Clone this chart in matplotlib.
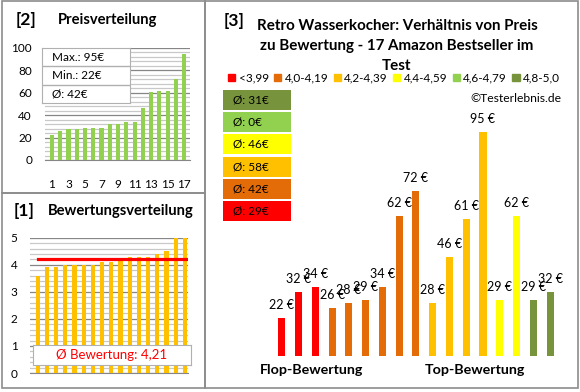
import numpy as np
import matplotlib.pyplot as plt
from matplotlib.patches import Rectangle, Patch
from matplotlib.ticker import MultipleLocator

plt.rcParams['font.family'] = ['Lato', 'DejaVu Sans']

# Daten: Reihenfolge wie im Hauptdiagramm [3]
preise = [22, 32, 34, 26, 28, 29, 34, 62, 72, 28, 46, 61, 95, 29, 62, 29, 32]
bewertungen = [3.6, 3.9, 3.9, 4.0, 4.0, 4.0, 4.0, 4.1, 4.1, 4.2, 4.3, 4.3, 4.3, 4.4, 4.5, 5.0, 5.0]
klassen = ['<3,99', '4,0-4,19', '4,2-4,39', '4,4-4,59', '4,6-4,79', '4,8-5,0']
grenzen = [0, 4.0, 4.2, 4.4, 4.6, 4.8, 5.01]
farben = ['#ff0000', '#e36c09', '#ffc000', '#ffff00', '#92d050', '#77933c']
titel = 'Retro Wasserkocher: Verhältnis von Preis\nzu Bewertung - 17 Amazon Bestseller im\nTest'

W, H = 580, 392


def px(l, t, r, b):
    # Pixelrechteck -> Figurkoordinaten
    return [l / W, 1 - b / H, (r - l) / W, (b - t) / H]


def runden(x):
    # kaufmaennisch runden (wie Excel)
    return int(np.floor(x + 0.5))


fig = plt.figure(figsize=(W / 100, H / 100), dpi=100)
grau = '#8c8c8c'

# Rahmen der drei Felder
for (l, t, r, b) in [(2, 1, 205, 193), (2, 193, 205, 388), (205, 1, 578, 388)]:
    fig.add_artist(Rectangle((l / W, 1 - b / H), (r - l) / W, (b - t) / H,
                             transform=fig.transFigure, fill=False, ec=grau, lw=1.2))

n = len(preise)
idx = np.arange(1, n + 1)

# -------------------
# [2] Preisverteilung
# -------------------
ax1 = fig.add_axes(px(44.5, 48, 190, 160))
p_sort = sorted(preise)
ax1.bar(idx, p_sort, width=0.5, color='#92d050', zorder=3)
ax1.set_xlim(0.1, 17.7)
ax1.set_ylim(0, 100)
ax1.set_xticks(idx[::2])
ax1.set_yticks(range(0, 101, 20))
ax1.yaxis.set_minor_locator(MultipleLocator(4))
ax1.grid(axis='y', which='major', color='#868686', lw=0.9)
ax1.grid(axis='y', which='minor', color='#c8c8c8', lw=0.9)
ax1.tick_params(which='both', length=0, labelsize=8.5)
ax1.tick_params(axis='x', pad=14)
ax1.tick_params(axis='y', pad=9)
for s in ['top', 'right', 'left']:
    ax1.spines[s].set_visible(False)
ax1.spines['bottom'].set_color('#868686')
fig.text(16 / W, 1 - 20 / H, '[2]', fontsize=12.5, fontweight='bold', va='center')
fig.text(58 / W, 1 - 20 / H, 'Preisverteilung', fontsize=10.6, fontweight='bold', va='center')

# Infobox Max/Min/Durchschnitt
box = fig.add_axes(px(42, 48, 130, 103), zorder=5)
box.set_xticks([])
box.set_yticks([])
box.set_xlim(0, 1)
box.set_ylim(0, 3)
for s in box.spines.values():
    s.set_color('#b0b0b0')
box.axhline(1, color='#b0b0b0', lw=1)
box.axhline(2, color='#b0b0b0', lw=1)
infos = [f'Max.: {max(preise)}€', f'Min.: {min(preise)}€', f'Ø: {runden(np.mean(preise))}€']
for i, t in enumerate(infos):
    box.text(0.11, 2.5 - i, t, fontsize=8.5, va='center')

# -------------------
# [1] Bewertungsverteilung
# -------------------
ax2 = fig.add_axes(px(30, 237.7, 188, 373))
b_sort = sorted(bewertungen)
ax2.bar(idx, b_sort, width=0.45, color='#ffc000', zorder=3)
ax2.set_xlim(0.16, 17.33)
ax2.set_ylim(0, 5)
ax2.set_xticks([])
ax2.set_yticks(range(0, 6))
ax2.yaxis.set_minor_locator(MultipleLocator(0.2))
ax2.grid(axis='y', which='major', color='#868686', lw=0.9)
ax2.grid(axis='y', which='minor', color='#c8c8c8', lw=0.9)
ax2.tick_params(which='both', length=0, labelsize=8.5, pad=9)
for s in ['top', 'right', 'left']:
    ax2.spines[s].set_visible(False)
ax2.spines['bottom'].set_color('#868686')
mittel_b = np.mean(bewertungen)
ax2.axhline(mittel_b, xmin=0.05, xmax=1, color='#ff0000', lw=2.3, zorder=4)
fig.text(14 / W, 1 - 211 / H, '[1]', fontsize=12.5, fontweight='bold', va='center')
fig.text(48 / W, 1 - 211 / H, 'Bewertungsverteilung', fontsize=10.6, fontweight='bold', va='center')

box2 = fig.add_axes(px(33, 345, 191, 365), zorder=5)
box2.set_xticks([])
box2.set_yticks([])
for s in box2.spines.values():
    s.set_color('#b0b0b0')
box2.text(0.5, 0.5, f'Ø Bewertung: {mittel_b:.2f}'.replace('.', ','),
          color='#ff0000', fontsize=9.5, ha='center', va='center', transform=box2.transAxes)

# -------------------
# [3] Preis zu Bewertung
# -------------------
ax3 = fig.add_axes(px(265, 119.3, 565, 356))
kat = np.digitize(bewertungen, grenzen) - 1
ax3.bar(idx, preise, width=0.42, color=[farben[k] for k in kat])
for x, p in zip(idx, preise):
    ax3.annotate(f'{p} €', (x, p), xytext=(0, 5), textcoords='offset points',
                 ha='center', va='bottom', fontsize=9, annotation_clip=False)
ax3.set_xlim(0.004, 17.89)
ax3.set_ylim(7, 100)
ax3.axis('off')

fig.text(224 / W, 1 - 21 / H, '[3]', fontsize=12.5, fontweight='bold', va='center')
fig.text(397 / W, 1 - 46 / H, titel, fontsize=10.9, fontweight='bold',
         ha='center', va='center', linespacing=1.5)

handles = [Patch(color=c) for c in farben]
fig.legend(handles, klassen, loc='center', bbox_to_anchor=(394 / W, 1 - 78 / H), ncol=6,
           fontsize=8.5, frameon=False, handlelength=0.6, handleheight=0.6,
           handletextpad=0.3, columnspacing=0.45, borderpad=0)

fig.text(470 / W, 1 - 99 / H, '©Testerlebnis.de', fontsize=8.7, va='center')

# Durchschnittspreise je Klasse
for i, k in enumerate(reversed(range(len(klassen)))):
    werte = [p for p, kk in zip(preise, kat) if kk == k]
    mittel = runden(np.mean(werte)) if werte else 0
    top = 90 + i * 22.2
    fig.add_artist(Rectangle((223 / W, 1 - (top + 20) / H), 68 / W, 20 / H,
                             transform=fig.transFigure, color=farben[k], lw=0))
    fig.text(233 / W, 1 - (top + 10) / H, f'Ø: {mittel}€', fontsize=8.5, va='center')

fig.text(312 / W, 1 - 370 / H, 'Flop-Bewertung', fontsize=10.3, fontweight='bold',
         ha='center', va='center')
fig.text(475 / W, 1 - 370 / H, 'Top-Bewertung', fontsize=10.3, fontweight='bold',
         ha='center', va='center')

fig.savefig('out.png', dpi=100)
